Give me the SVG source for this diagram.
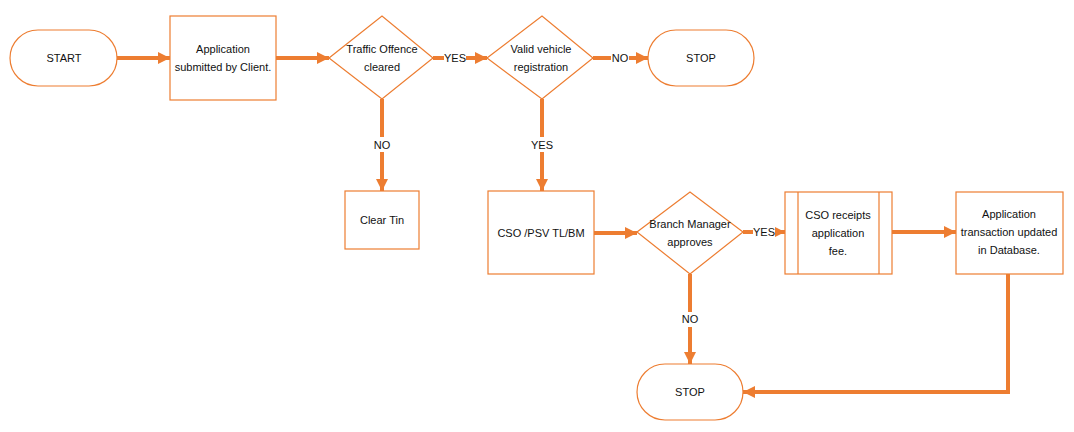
<svg xmlns="http://www.w3.org/2000/svg" width="1074" height="432" viewBox="0 0 1074 432">
<defs>
<marker id="ah" markerUnits="userSpaceOnUse" markerWidth="14" markerHeight="14" refX="12" refY="6" orient="auto">
<path d="M0,0 L12,6 L0,12 Z" fill="#ED7D31"/>
</marker>
<style>
.s{fill:#fff;stroke:#ED7D31;stroke-width:1.2}
.t{font-family:"Liberation Sans",Arial,sans-serif;font-size:11px;fill:#111;text-anchor:middle}
.c{fill:none;stroke:#ED7D31;stroke-width:4;marker-end:url(#ah)}
.l{fill:#fff}
</style>
</defs>
<rect width="1074" height="432" fill="#fff"/>
<g id="connectors">
<path class="c" d="M117,58 H170"/>
<path class="c" d="M276,58 H329"/>
<path class="c" d="M433,58 H487"/>
<path class="c" d="M593,58 H648"/>
<path class="c" d="M382,99 V191"/>
<path class="c" d="M542,99 V191"/>
<path class="c" d="M594,233 H637"/>
<path class="c" d="M743,232 H785"/>
<path class="c" d="M892,232 H956"/>
<path class="c" d="M690,274 V364"/>
<path class="c" d="M1008,274 V392 H743"/>
<rect class="l" x="444" y="51" width="22" height="14"/>
<text class="t" x="455" y="62">YES</text>
<rect class="l" x="611" y="51" width="18" height="14"/>
<text class="t" x="620" y="62">NO</text>
<rect class="l" x="372" y="137" width="20" height="15"/>
<text class="t" x="382" y="149">NO</text>
<rect class="l" x="530" y="137" width="24" height="15"/>
<text class="t" x="542" y="149">YES</text>
<rect class="l" x="753" y="225" width="22" height="14"/>
<text class="t" x="764" y="236">YES</text>
<rect class="l" x="680" y="312" width="20" height="15"/>
<text class="t" x="690" y="323">NO</text>
</g>
<g id="start">
<rect class="s" x="10" y="30" width="107" height="56" rx="28"/>
<text class="t" x="64" y="62">START</text>
</g>
<g id="submitted">
<rect class="s" x="170" y="16" width="106" height="84"/>
<text class="t" x="223" y="53">Application</text>
<text class="t" x="223" y="71">submitted by Client.</text>
</g>
<g id="traffic">
<path class="s" d="M329,58 L382,16 L433,58 L382,99 Z"/>
<text class="t" x="382" y="53">Traffic Offence</text>
<text class="t" x="382" y="71">cleared</text>
</g>
<g id="valid">
<path class="s" d="M487,58 L542,16 L593,58 L542,99 Z"/>
<text class="t" x="541" y="53">Valid vehicle</text>
<text class="t" x="541" y="71">registration</text>
</g>
<g id="stop1">
<rect class="s" x="648" y="30" width="106" height="56" rx="28"/>
<text class="t" x="701" y="62">STOP</text>
</g>
<g id="cleartin">
<rect class="s" x="345" y="191" width="74" height="58"/>
<text class="t" x="382" y="224">Clear Tin</text>
</g>
<g id="cso">
<rect class="s" x="488" y="191" width="106" height="83"/>
<text class="t" x="541" y="237">CSO /PSV TL/BM</text>
</g>
<g id="branch">
<path class="s" d="M637,232 L690,192 L743,232 L690,274 Z"/>
<text class="t" x="690" y="228">Branch Manager</text>
<text class="t" x="690" y="246">approves</text>
</g>
<g id="receipts">
<rect class="s" x="785" y="192" width="107" height="82"/>
<path class="s" d="M798,192 V274 M879,192 V274"/>
<text class="t" x="838" y="219">CSO receipts</text>
<text class="t" x="838" y="237">application</text>
<text class="t" x="838" y="255">fee.</text>
</g>
<g id="database">
<rect class="s" x="956" y="192" width="107" height="82"/>
<text class="t" x="1009" y="218">Application</text>
<text class="t" x="1009" y="236">transaction updated</text>
<text class="t" x="1009" y="254">in Database.</text>
</g>
<g id="stop2">
<rect class="s" x="637" y="364" width="106" height="56" rx="28"/>
<text class="t" x="690" y="396">STOP</text>
</g>
</svg>
